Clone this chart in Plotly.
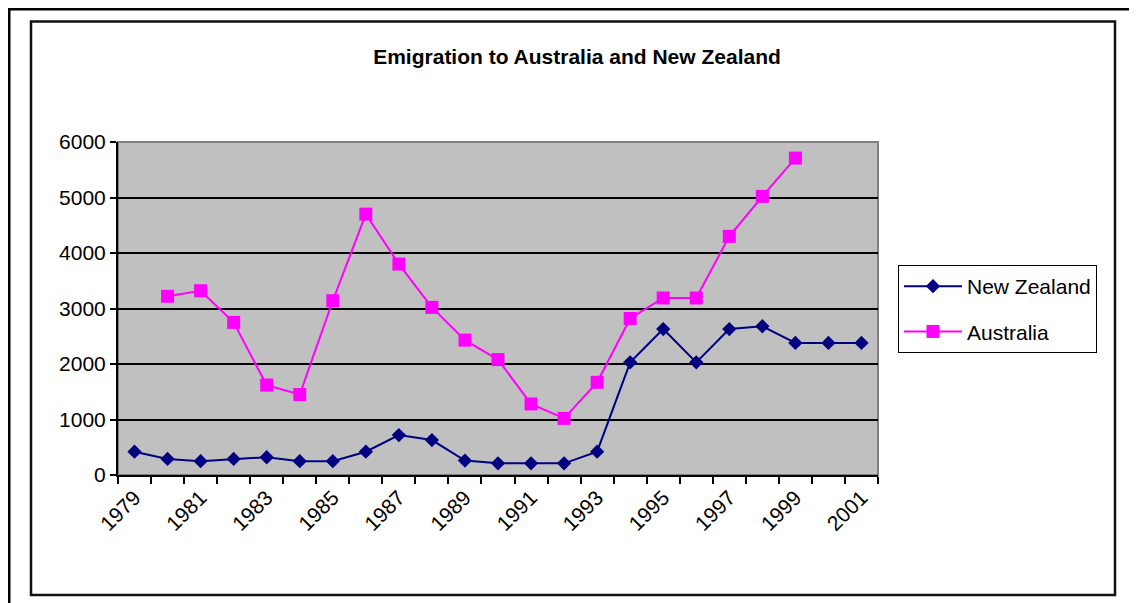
import plotly.graph_objects as go

# data
years = list(range(1979, 2002))
new_zealand = [420, 290, 250, 290, 320, 250, 250, 420, 720, 630, 260,
               210, 210, 210, 420, 2030, 2630, 2030, 2630, 2680, 2380, 2380, 2380]
australia = [None, 3220, 3320, 2750, 1620, 1450, 3140, 4700, 3800, 3020, 2430,
             2080, 1280, 1020, 1670, 2820, 3190, 3190, 4300, 5020, 5710, None, None]
tick_years = list(range(1979, 2002, 2))
y_ticks = [0, 1000, 2000, 3000, 4000, 5000, 6000]

W, H = 1137, 603
OFF = 8                           # page body margin
L, R, T, B = 118, 878, 142, 475   # plot area in page pixels
FONT = "Liberation Sans, Arial, sans-serif"


def px(x):
    return (x - L) / (R - L)


def py(y):
    return (B - y) / (B - T)


fig = go.Figure()

fig.add_trace(go.Scatter(
    x=years, y=new_zealand, name="New Zealand", mode="lines+markers",
    legendgroup="nz",
    line=dict(color="#000080", width=2),
    marker=dict(symbol="diamond", size=11, color="#000080"),
))
fig.add_trace(go.Scatter(
    x=years, y=australia, name="Australia", mode="lines+markers",
    legendgroup="au",
    line=dict(color="#FF00FF", width=2),
    marker=dict(symbol="square", size=13, color="#FF00FF"),
))

shapes = [
    # grey plot-area box
    dict(type="rect", xref="paper", yref="paper", x0=0, x1=1, y0=0, y1=1,
         line=dict(color="#808080", width=2), fillcolor="#C0C0C0", layer="below"),
    # outer frame (top and left only, cut by the image edge)
    dict(type="line", xref="paper", yref="paper", x0=px(OFF), x1=px(W + OFF),
         y0=py(OFF + 1), y1=py(OFF + 1), line=dict(color="black", width=3)),
    dict(type="line", xref="paper", yref="paper", x0=px(OFF + 1), x1=px(OFF + 1),
         y0=py(OFF), y1=py(H + OFF), line=dict(color="black", width=3)),
    # inner chart frame
    dict(type="rect", xref="paper", yref="paper", x0=px(31), x1=px(1115),
         y0=py(595), y1=py(21.5), line=dict(color="#111111", width=2.5)),
]

fig.update_layout(
    width=W, height=H,
    margin=dict(l=L - OFF, r=W - (R - OFF), t=T - OFF, b=H - (B - OFF)),
    paper_bgcolor="white",
    plot_bgcolor="#C0C0C0",
    font=dict(family=FONT, size=21, color="black"),
    title=dict(text="<b>Emigration to Australia and New Zealand</b>",
               x=(577 - OFF) / W, xanchor="center", y=1 - (57 - OFF) / H,
               yanchor="middle",
               font=dict(family=FONT, size=21, color="black")),
    legend=dict(x=px(898), xanchor="left", y=py(265), yanchor="top",
                bordercolor="black", borderwidth=1, bgcolor="white",
                font=dict(family=FONT, size=21, color="black"),
                traceorder="grouped", tracegroupgap=15, itemwidth=58),
    shapes=shapes,
    xaxis=dict(
        range=[1978.5, 2001.5], tickmode="array", tickvals=tick_years,
        ticktext=[str(y) for y in tick_years], tickangle=-45, ticks="",
        showgrid=False, zeroline=False, showline=True, linecolor="black",
        linewidth=2,
        minor=dict(ticks="outside", tick0=1978.5, dtick=1, ticklen=7,
                   tickcolor="black", tickwidth=1.5, showgrid=False),
    ),
    yaxis=dict(
        range=[0, 6000], tickmode="array", tickvals=y_ticks,
        ticks="outside", ticklen=6, tickcolor="black", tickwidth=1.5,
        showgrid=True, gridcolor="black", gridwidth=1.5, zeroline=False,
        showline=True, linecolor="black", linewidth=2,
    ),
)

fig.write_html("out.html")
